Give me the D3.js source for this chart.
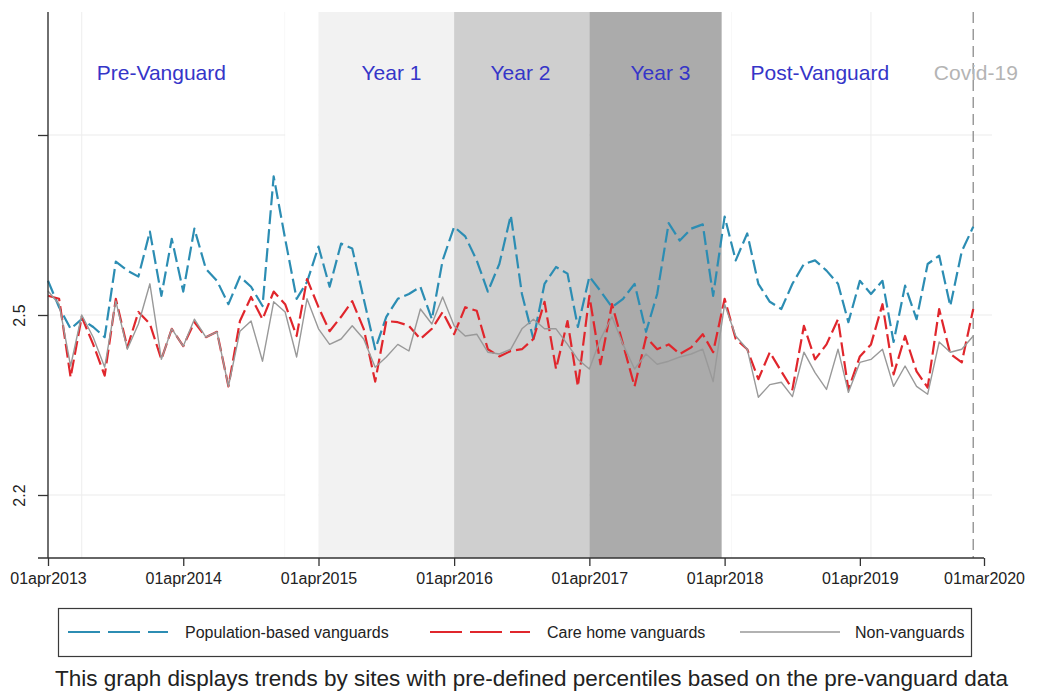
<!DOCTYPE html>
<html>
<head>
<meta charset="utf-8">
<script src="https://cdn.jsdelivr.net/npm/d3@7"></script>
<style>
  html, body { margin: 0; padding: 0; background: #ffffff; }
  svg { display: block; font-family: "Liberation Sans", Arial, Helvetica, sans-serif; }
</style>
</head>
<body>
<svg id="chart" width="1038" height="691"></svg>
<script>
// Monthly series, April 2013 to February 2020
const firstMonth = "2013-04-01";
const lastMonth = "2020-02-01";

const popValues = [
  2.557, 2.513, 2.477, 2.493, 2.480, 2.463, 2.589, 2.574, 2.564, 2.639, 2.532, 2.627,
  2.539, 2.644, 2.577, 2.557, 2.518, 2.564, 2.547, 2.515, 2.731, 2.627, 2.527, 2.555,
  2.614, 2.547, 2.619, 2.611, 2.527, 2.443, 2.497, 2.527, 2.535, 2.547, 2.493, 2.591,
  2.647, 2.631, 2.591, 2.539, 2.585, 2.666, 2.535, 2.460, 2.552, 2.580, 2.569, 2.480,
  2.564, 2.540, 2.513, 2.527, 2.552, 2.472, 2.535, 2.653, 2.624, 2.644, 2.651, 2.532,
  2.664, 2.591, 2.636, 2.552, 2.522, 2.510, 2.552, 2.585, 2.591, 2.574, 2.552, 2.488,
  2.557, 2.535, 2.557, 2.455, 2.549, 2.493, 2.585, 2.599, 2.515, 2.606, 2.647
];

const careValues = [
  2.532, 2.527, 2.396, 2.497, 2.451, 2.399, 2.527, 2.446, 2.505, 2.485, 2.426, 2.477,
  2.448, 2.488, 2.463, 2.472, 2.381, 2.490, 2.530, 2.493, 2.539, 2.518, 2.465, 2.560,
  2.513, 2.473, 2.497, 2.523, 2.477, 2.389, 2.490, 2.488, 2.482, 2.460, 2.477, 2.505,
  2.468, 2.513, 2.507, 2.443, 2.431, 2.440, 2.443, 2.460, 2.522, 2.410, 2.490, 2.381,
  2.532, 2.418, 2.518, 2.451, 2.381, 2.463, 2.443, 2.451, 2.435, 2.446, 2.468, 2.438,
  2.527, 2.460, 2.443, 2.393, 2.438, 2.406, 2.376, 2.482, 2.426, 2.451, 2.493, 2.376,
  2.431, 2.451, 2.518, 2.401, 2.465, 2.406, 2.379, 2.510, 2.435, 2.421, 2.510
];

const nonValues = [
  2.540, 2.518, 2.415, 2.500, 2.463, 2.413, 2.523, 2.443, 2.485, 2.552, 2.426, 2.477,
  2.448, 2.493, 2.463, 2.472, 2.381, 2.473, 2.490, 2.423, 2.522, 2.505, 2.430, 2.527,
  2.477, 2.451, 2.460, 2.482, 2.460, 2.413, 2.430, 2.451, 2.440, 2.510, 2.485, 2.530,
  2.482, 2.465, 2.468, 2.438, 2.435, 2.443, 2.477, 2.493, 2.477, 2.477, 2.451, 2.426,
  2.410, 2.460, 2.497, 2.451, 2.410, 2.435, 2.418, 2.423, 2.430, 2.435, 2.443, 2.389,
  2.518, 2.465, 2.443, 2.363, 2.384, 2.388, 2.364, 2.438, 2.404, 2.376, 2.443, 2.371,
  2.421, 2.426, 2.443, 2.381, 2.415, 2.381, 2.368, 2.455, 2.438, 2.443, 2.465
];

const seriesNames = ["Population-based vanguards", "Care home vanguards", "Non-vanguards"];

const xTickDates = ["2013-04-01", "2014-04-01", "2015-04-01", "2016-04-01",
                    "2017-04-01", "2018-04-01", "2019-04-01", "2020-03-01"];
const yTickValues = [2.2, 2.5, 2.8];
const yTickLabels = ["2.2", "2.5", ""];

// Implementation years (shaded) and the blank spans either side of them
const yearStarts = ["2015-04-01", "2016-04-01", "2017-04-01"];
const yearEnds   = ["2016-04-01", "2017-04-01", "2018-03-24"];
const blankStarts = ["2015-01-01", "2018-03-24"];
const blankEnds   = ["2015-04-01", "2018-04-18"];
const xGridDates = ["2013-07-01", "2015-01-01", "2018-04-18", "2019-05-01"];

const phaseNames = ["Pre-Vanguard", "Year 1", "Year 2", "Year 3", "Post-Vanguard", "Covid-19"];
const phaseLabelDates = ["2014-02-01", "2015-10-15", "2016-09-27", "2017-10-10", "2018-12-14", "2020-02-08"];
const covidDate = "2020-02-01";

const caption = "This graph displays trends by sites with pre-defined percentiles based on the pre-vanguard data";

// ---------------------------------------------------------------
const parse = d3.timeParse("%Y-%m-%d");
const months = d3.timeMonth.range(parse(firstMonth), d3.timeMonth.offset(parse(lastMonth), 1));

const svg = d3.select("#chart");
const plotTop = 12, plotBottom = 558;

const x = d3.scaleTime()
  .domain([parse("2013-04-01"), parse("2020-03-01")])
  .range([48, 984]);
const y = d3.scaleLinear()
  .domain([2.2, 2.8])
  .range([495, 135]);

svg.append("rect").attr("width", 1038).attr("height", 691).attr("fill", "#ffffff");

// Grid
const grid = svg.append("g");
grid.selectAll("line.h").data(yTickValues).join("line")
  .attr("x1", x.range()[0]).attr("x2", x.range()[1] + 8)
  .attr("y1", d => y(d)).attr("y2", d => y(d))
  .attr("stroke", "#ebebeb").attr("stroke-width", 1);
grid.selectAll("line.v").data(xGridDates).join("line")
  .attr("x1", d => x(parse(d))).attr("x2", d => x(parse(d)))
  .attr("y1", plotTop).attr("y2", plotBottom)
  .attr("stroke", "#ededed").attr("stroke-width", 1);

// Blank spans and shaded implementation years
const shade = svg.append("g");
shade.selectAll("rect.blank").data(blankStarts).join("rect")
  .attr("x", d => x(parse(d)))
  .attr("width", (d, i) => x(parse(blankEnds[i])) - x(parse(d)))
  .attr("y", plotTop).attr("height", plotBottom - plotTop)
  .attr("fill", "#ffffff");
const yearFills = ["#f2f2f2", "#cfcfcf", "#ababab"];
shade.selectAll("rect.year").data(yearStarts).join("rect")
  .attr("x", d => x(parse(d)))
  .attr("width", (d, i) => x(parse(yearEnds[i])) - x(parse(d)))
  .attr("y", plotTop).attr("height", plotBottom - plotTop)
  .attr("fill", (d, i) => yearFills[i]);

// Covid-19 marker
svg.append("line")
  .attr("x1", x(parse(covidDate))).attr("x2", x(parse(covidDate)))
  .attr("y1", plotTop).attr("y2", plotBottom)
  .attr("stroke", "#9a9a9a").attr("stroke-width", 1.5)
  .attr("stroke-dasharray", "11,6");

// Phase labels
svg.append("g").selectAll("text").data(phaseNames).join("text")
  .attr("x", (d, i) => x(parse(phaseLabelDates[i])))
  .attr("y", 80)
  .attr("text-anchor", "middle")
  .attr("font-size", 21)
  .attr("fill", (d, i) => i === phaseNames.length - 1 ? "#b4b4b4" : "#3535c8")
  .text(d => d);

// Series
const seriesValues = [popValues, careValues, nonValues];
const seriesColors = ["#2c8db3", "#e0262c", "#999999"];
const seriesWidths = [2.2, 2.2, 1.4];
const seriesDash = ["14,5", "14,5", null];
const line = d3.line().x((d, i) => x(months[i])).y(d => y(d));
svg.append("g").selectAll("path").data(seriesValues).join("path")
  .attr("d", d => line(d))
  .attr("fill", "none")
  .attr("stroke", (d, i) => seriesColors[i])
  .attr("stroke-width", (d, i) => seriesWidths[i])
  .attr("stroke-dasharray", (d, i) => seriesDash[i])
  .attr("stroke-linejoin", "round");

// Axes
const fmt = d3.timeFormat("%d%b%Y");
const xAxis = svg.append("g")
  .attr("transform", `translate(0,${plotBottom})`)
  .call(d3.axisBottom(x)
    .tickValues(xTickDates.map(parse))
    .tickFormat(d => fmt(d).toLowerCase())
    .tickSize(8).tickPadding(7).tickSizeOuter(0));
xAxis.select(".domain").remove();
xAxis.selectAll(".tick line").attr("stroke", "#333").attr("stroke-width", 1.3);
xAxis.selectAll(".tick text").attr("font-size", 16).attr("fill", "#222")
  .attr("font-family", "Liberation Sans, Arial, sans-serif");
svg.append("line")
  .attr("x1", 38).attr("x2", x(parse(xTickDates[xTickDates.length - 1])))
  .attr("y1", plotBottom).attr("y2", plotBottom)
  .attr("stroke", "#333").attr("stroke-width", 1.4);

const yAxis = svg.append("g")
  .attr("transform", `translate(${x.range()[0]},0)`)
  .call(d3.axisLeft(y)
    .tickValues(yTickValues)
    .tickFormat((d, i) => yTickLabels[i])
    .tickSize(10).tickSizeOuter(0));
yAxis.select(".domain").remove();
yAxis.selectAll(".tick line").attr("stroke", "#333").attr("stroke-width", 1.3);
yAxis.selectAll(".tick text")
  .attr("x", null).attr("dy", null)
  .attr("text-anchor", "middle")
  .attr("transform", `translate(-23,0) rotate(-90)`)
  .attr("font-size", 16).attr("fill", "#222")
  .attr("font-family", "Liberation Sans, Arial, sans-serif");
svg.append("line")
  .attr("x1", x.range()[0]).attr("x2", x.range()[0])
  .attr("y1", plotTop).attr("y2", plotBottom)
  .attr("stroke", "#333").attr("stroke-width", 1.4);

// Legend
const legend = svg.append("g");
legend.append("rect")
  .attr("x", 58.5).attr("y", 608.5).attr("width", 913).attr("height", 48)
  .attr("fill", "#ffffff").attr("stroke", "#3a3a3a").attr("stroke-width", 1.2);
const legendSampleX = [68, 430, 740];
const legendTextX = [185, 547, 855];
const legendDash = ["32,8", "32,8", null];
seriesNames.forEach((name, i) => {
  legend.append("line")
    .attr("x1", legendSampleX[i]).attr("x2", legendSampleX[i] + 100)
    .attr("y1", 632).attr("y2", 632)
    .attr("stroke", seriesColors[i]).attr("stroke-width", seriesWidths[i])
    .attr("stroke-dasharray", legendDash[i]);
  legend.append("text")
    .attr("x", legendTextX[i]).attr("y", 638)
    .attr("font-size", 16).attr("fill", "#222")
    .text(name);
});

// Caption
svg.append("text")
  .attr("x", 55).attr("y", 686)
  .attr("font-size", 22.5).attr("fill", "#222")
  .text(caption);
</script>
</body>
</html>
